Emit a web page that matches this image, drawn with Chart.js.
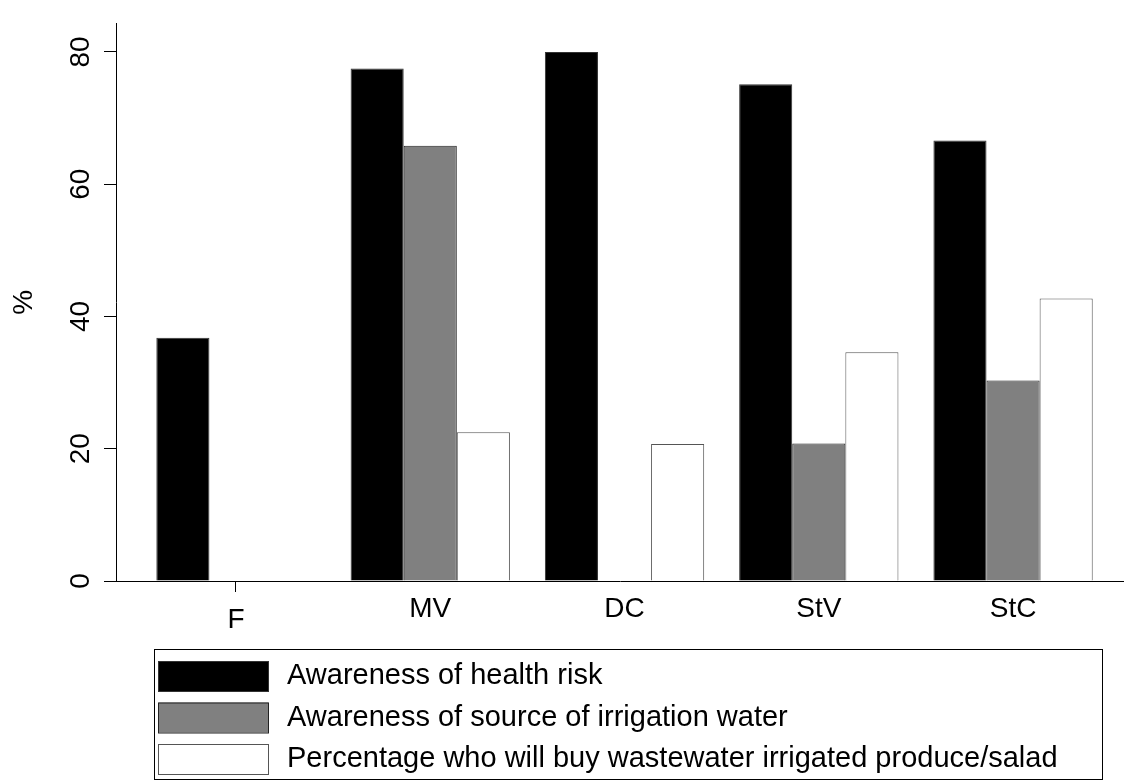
<!DOCTYPE html>
<html>
<head>
<meta charset="utf-8">
<script src="https://cdn.jsdelivr.net/npm/chart.js@4.4.1/dist/chart.umd.min.js"></script>
<style>
  html, body { margin: 0; padding: 0; background: #fff; }
  #wrap { width: 1124px; height: 780px; }
</style>
</head>
<body>
<div id="wrap"><canvas id="chart" width="1124" height="780"></canvas></div>
<script>
// --- Data ---
const categories   = ['F', 'MV', 'DC', 'StV', 'StC'];
const healthRisk   = [36.8, 77.5, 80.0, 75.1, 66.6];
const sourceAware  = [null, 65.8, null, 20.8, 30.3];
const willBuy      = [null, 22.5, 20.7, 34.6, 42.7];
const seriesLabels = [
    'Awareness of health risk',
    'Awareness of source of irrigation water',
    'Percentage who will buy wastewater irrigated produce/salad'
];
const yTicks = [0, 20, 40, 60, 80];

const FONT = '"Liberation Sans", Arial, Helvetica, sans-serif';

const toPoints = arr => arr.map((v, i) => ({ x: i, y: v }));

// legend drawn as a framed box under the plot (one row per series)
const boxedLegend = {
    id: 'boxedLegend',
    afterDraw(chart) {
        const ctx = chart.ctx;
        ctx.save();
        ctx.lineWidth = 1;
        ctx.strokeStyle = '#000';
        ctx.strokeRect(154.5, 649.5, 948, 130);
        ctx.font = '29px ' + FONT;
        ctx.textBaseline = 'middle';
        ctx.textAlign = 'left';
        chart.data.datasets.forEach((ds, i) => {
            const y = 661 + i * 41.5;
            ctx.fillStyle = ds.backgroundColor;
            ctx.fillRect(158.5, y, 110, 30);
            ctx.strokeStyle = ds.borderColor;
            ctx.strokeRect(158.5, y + 0.5, 110, 30);
            ctx.fillStyle = '#000';
            ctx.fillText(ds.label, 287, y + 15);
        });
        ctx.restore();
    }
};

const canvas = document.getElementById('chart');
new Chart(canvas, {
    type: 'bar',
    data: {
        datasets: [
            { label: seriesLabels[0], data: toPoints(healthRisk),  backgroundColor: '#000000', borderColor: '#333333', borderWidth: 1 },
            { label: seriesLabels[1], data: toPoints(sourceAware), backgroundColor: '#808080', borderColor: '#222222', borderWidth: 1 },
            { label: seriesLabels[2], data: toPoints(willBuy),     backgroundColor: '#ffffff', borderColor: '#555555', borderWidth: 1 }
        ]
    },
    options: {
        responsive: false,
        animation: false,
        devicePixelRatio: 1,
        categoryPercentage: 0.82,
        barPercentage: 1.0,
        layout: { padding: { top: 12.7, left: 0, right: 0, bottom: 0 } },
        plugins: {
            legend: { display: false },
            tooltip: { enabled: false }
        },
        scales: {
            x: {
                type: 'linear',
                min: -0.614,
                max: 4.571,
                bounds: 'data',
                offset: false,
                afterBuildTicks: s => { s.ticks = categories.map((c, i) => ({ value: i })); },
                afterFit: s => { s.height = 199; },
                border: { display: true, color: '#000', width: 1 },
                grid: {
                    display: true,
                    offset: false,
                    drawOnChartArea: false,
                    tickLength: 11,
                    // only the first group carries a tick mark
                    tickColor: ctx => ctx.index === 0 ? '#000' : 'rgba(0,0,0,0)'
                },
                ticks: {
                    autoSkip: false,
                    maxRotation: 0,
                    padding: 0,
                    color: '#000',
                    font: ctx => ({ family: FONT, size: 28, lineHeight: ctx.index === 0 ? 0.68 : 1.2 }),
                    // first label sits lower than the others
                    callback: v => {
                        const i = Math.round(v);
                        return i === 0 ? ['', categories[i]] : categories[i];
                    }
                }
            },
            y: {
                min: 0,
                max: 84.3,
                bounds: 'data',
                afterBuildTicks: s => { s.ticks = yTicks.map(v => ({ value: v })); },
                afterFit: s => { s.width = 116.7; },
                border: { display: true, color: '#000', width: 1 },
                grid: { display: true, drawOnChartArea: false, tickLength: 12.7, tickColor: '#000' },
                ticks: {
                    minRotation: 90,
                    maxRotation: 90,
                    crossAlign: 'center',
                    padding: 6.7,
                    color: '#000',
                    font: { family: FONT, size: 28 }
                },
                title: {
                    display: true,
                    text: '%',
                    color: '#000',
                    font: { family: FONT, size: 28 },
                    padding: { top: 7.2, bottom: 0 }
                }
            }
        }
    },
    plugins: [boxedLegend]
});
</script>
</body>
</html>
